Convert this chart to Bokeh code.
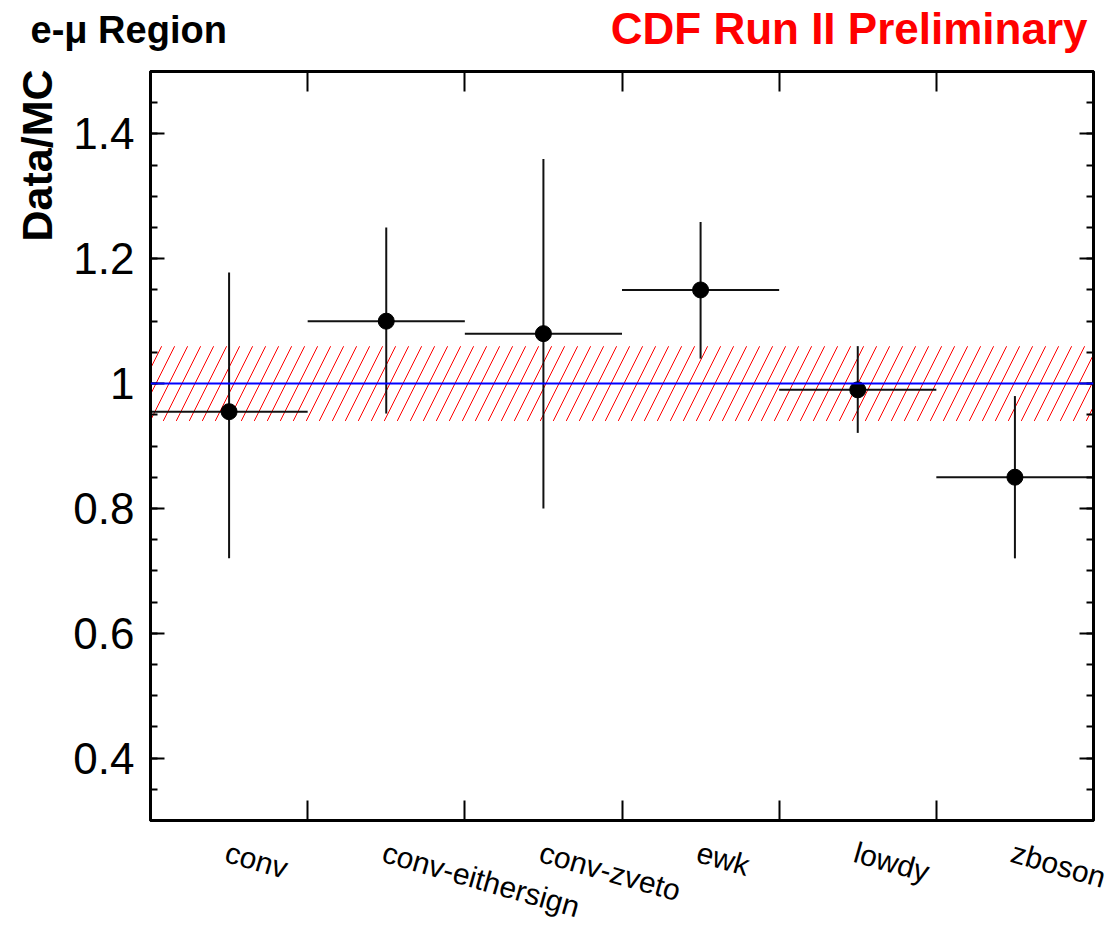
import math
from bokeh.plotting import figure
from bokeh.layouts import column
from bokeh.models import (Range1d, LinearAxis, FixedTicker, Span, Title,
                          ColumnDataSource, CustomJSTickFormatter)
from bokeh.core.properties import value
from bokeh.embed import file_html
from bokeh.resources import INLINE

# ---- data ----
categories = ["conv", "conv-eithersign", "conv-zveto", "ewk", "lowdy", "zboson"]
ratio = [0.955, 1.10, 1.08, 1.15, 0.99, 0.85]
ratio_low = [0.72, 0.952, 0.80, 1.04, 0.921, 0.72]
ratio_high = [1.178, 1.25, 1.36, 1.259, 1.06, 0.98]
band_low = 0.94
band_high = 1.06
y_major_ticks = [0.4, 0.6, 0.8, 1.0, 1.2, 1.4]
title_left = "e-\u03bc Region"
title_right = "CDF Run II Preliminary"
y_title = "Data/MC"

n = len(categories)
bin_left = list(range(n))
bin_right = [i + 1 for i in range(n)]
bin_center = [i + 0.5 for i in range(n)]

FONT = "Liberation Sans"
W = 1109
TOTAL_H = 931
HEAD = 56
FRAME_L, FRAME_R, FRAME_T, FRAME_B = 150, 1093, 71, 820
BOTTOM_PAD = 6
MAIN_H = FRAME_B + BOTTOM_PAD - HEAD
FOOT = TOTAL_H - HEAD - MAIN_H


def bare(fig):
    fig.grid.visible = False
    fig.frame_align = False
    return fig


# ---- header with the two titles ----
head = bare(figure(width=W, height=HEAD, output_backend="svg", toolbar_location=None,
                   x_range=Range1d(0, W), y_range=Range1d(HEAD, 0),
                   x_axis_location=None, y_axis_location=None,
                   min_border=0, outline_line_color=None))
head.text(x=[30], y=[8], text=[title_left], text_font=value(FONT),
          text_font_size="38px", text_font_style="bold", text_color="black",
          text_align="left", text_baseline="top")
head.text(x=[1087], y=[3], text=[title_right], text_font=value(FONT),
          text_font_size="44px", text_font_style="bold", text_color="red",
          text_align="right", text_baseline="top")

# ---- main plot ----
p = bare(figure(width=W, height=MAIN_H, output_backend="svg", toolbar_location=None,
                x_range=Range1d(0, n), y_range=Range1d(0.3, 1.5),
                x_axis_location=None, y_axis_location=None,
                min_border_left=FRAME_L, min_border_right=W - FRAME_R,
                min_border_top=FRAME_T - HEAD, min_border_bottom=BOTTOM_PAD))
p.outline_line_color = "black"
p.outline_line_width = 3

minor = [round(0.3 + 0.05 * k, 2) for k in range(25)]
yticker = FixedTicker(ticks=y_major_ticks, minor_ticks=minor)
xticker = FixedTicker(ticks=bin_right[:-1], minor_ticks=[])
blank = CustomJSTickFormatter(code="return ''")


def style_axis(ax, labels=True):
    ax.axis_line_width = 3
    ax.axis_line_color = "black"
    ax.major_tick_line_width = 2
    ax.minor_tick_line_width = 2
    ax.major_tick_out = 0
    ax.minor_tick_out = 0
    if not labels:
        ax.formatter = blank
        ax.major_label_text_font_size = "1px"
        ax.major_label_standoff = 0


ly = LinearAxis(ticker=yticker)
style_axis(ly)
ly.major_tick_in = 14
ly.minor_tick_in = 7
ly.major_label_text_font = FONT
ly.major_label_text_font_size = "44px"
ly.major_label_text_color = "black"
ly.major_label_standoff = 16
ly.major_label_overrides = {1.0: "1"}
p.add_layout(ly, "left")

p.add_layout(Title(text=y_title, align="right", offset=-2, standoff=20,
                   text_font=FONT, text_font_size="43px", text_font_style="bold",
                   text_color="black"), "left")

ry = LinearAxis(ticker=yticker)
style_axis(ry, labels=False)
ry.major_tick_in = 14
ry.minor_tick_in = 7
p.add_layout(ry, "right")

for loc in ("below", "above"):
    ax = LinearAxis(ticker=xticker)
    style_axis(ax, labels=False)
    ax.major_tick_in = 20
    ax.minor_tick_in = 0
    p.add_layout(ax, loc)

# systematic band (hatched)
p.quad(left=[0], right=[n], bottom=[band_low], top=[band_high],
       fill_alpha=0, line_alpha=0, hatch_pattern="/", hatch_color="red",
       hatch_scale=26, hatch_weight=1)

p.add_layout(Span(location=1.0, dimension="width", line_color="#0000ff", line_width=2))

src = ColumnDataSource(dict(x=bin_center, xl=bin_left, xr=bin_right,
                            y=ratio, lo=ratio_low, hi=ratio_high))
p.segment(x0="xl", x1="xr", y0="y", y1="y", source=src, line_color="#111111", line_width=2)
p.segment(x0="x", x1="x", y0="lo", y1="hi", source=src, line_color="#111111", line_width=2)
p.scatter(x="x", y="y", source=src, size=16, color="black")

# ---- footer with slanted category labels, same x scale as the main frame ----
px_per_bin = (FRAME_R - FRAME_L) / n
foot = bare(figure(width=W, height=FOOT, output_backend="svg", toolbar_location=None,
                   x_range=Range1d(-FRAME_L / px_per_bin, (W - FRAME_L) / px_per_bin),
                   y_range=Range1d(FOOT, 0),
                   x_axis_location=None, y_axis_location=None,
                   min_border=0, outline_line_color=None))
foot.text(x=[c + 0.01 for c in bin_center], y=[835 - FRAME_B - BOTTOM_PAD] * n, text=categories,
          angle=-16 * math.pi / 180, text_font=value(FONT), text_font_size="30px",
          text_color="black", text_align="left", text_baseline="top")

layout = column(head, p, foot, spacing=0)
open("out.html", "w").write(file_html(layout, INLINE))
